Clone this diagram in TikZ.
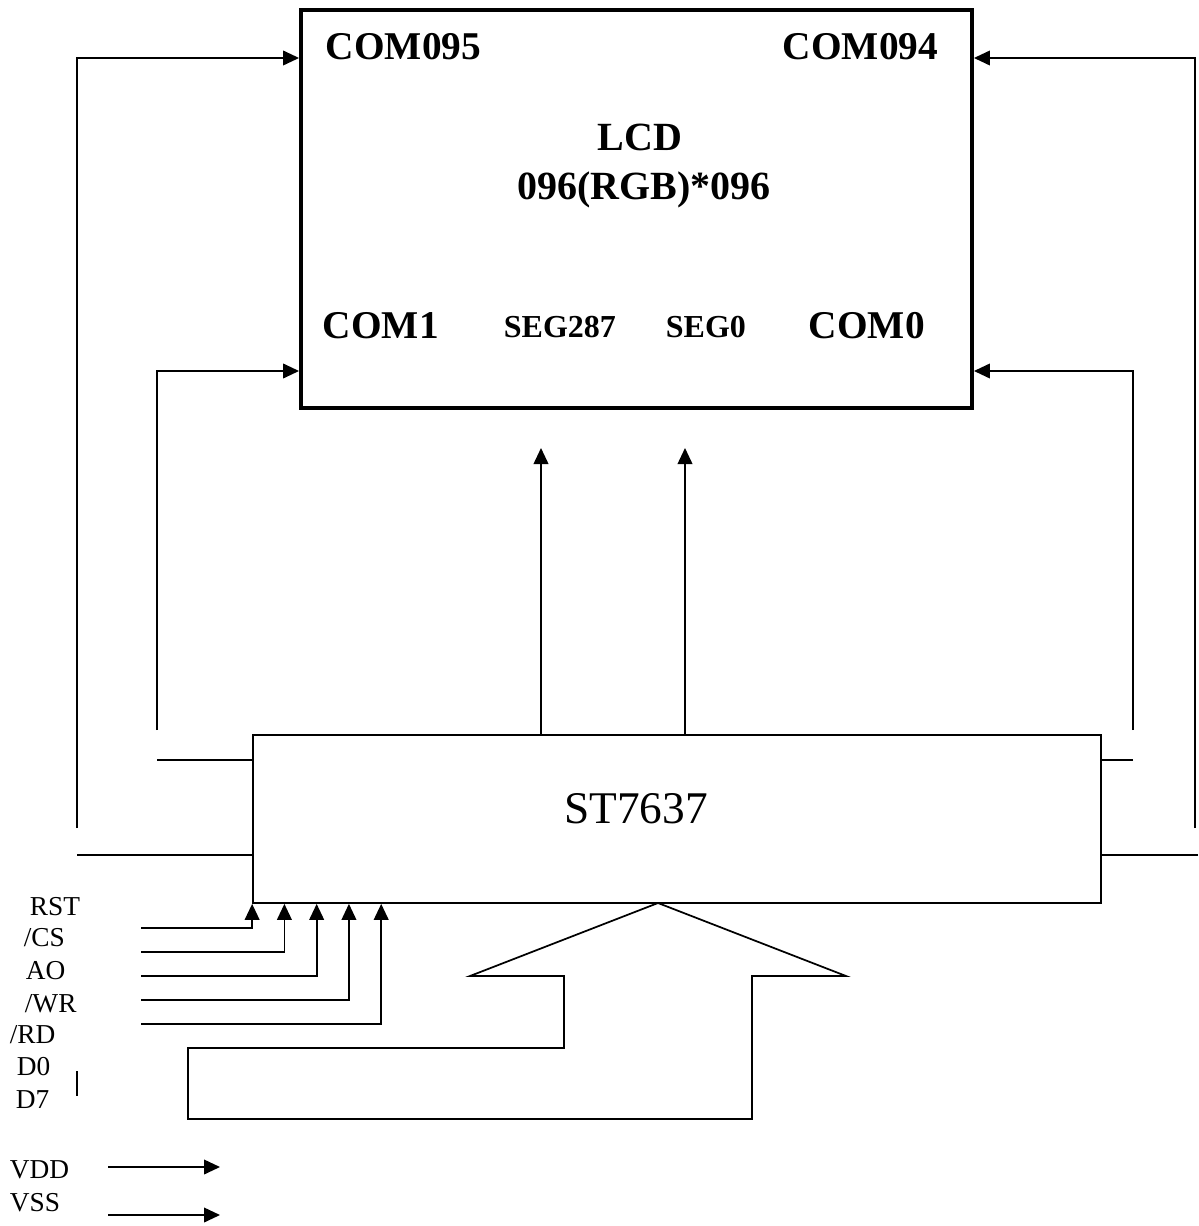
\documentclass[tikz,border=0pt]{standalone}
\usepackage{fontspec}
\setmainfont{Liberation Serif}
\usetikzlibrary{arrows.meta}
\begin{document}
\begin{tikzpicture}[x=0.75pt,y=-0.75pt,line width=1.3pt,
  arr/.style={-{Triangle[length=12pt,width=11pt]}},
  big/.style={font=\fontsize{29.5}{34}\selectfont\bfseries,anchor=base west,inner sep=0pt},
  seg/.style={font=\fontsize{24}{28}\selectfont\bfseries,anchor=base west,inner sep=0pt},
  pin/.style={font=\fontsize{20.5}{24}\selectfont,anchor=base west,inner sep=0pt}]
  \useasboundingbox (0,0) rectangle (1198,1226);
  \node[draw,line width=3.2pt,minimum width=503pt,minimum height=298.5pt,inner sep=0pt] (lcd) at (636.5,209) {};
  \node[big] (com95) at (325,60) {COM095};
  \node[big] (com94) at (782,60) {COM094};
  \node[big,anchor=base,font=\fontsize{30}{36}\selectfont\bfseries] (lcdt) at (640,151) {LCD};
  \node[big,anchor=base,font=\fontsize{30}{36}\selectfont\bfseries] (res) at (644,200) {096(RGB)*096};
  \node[big] (com1) at (322,339) {COM1};
  \node[seg] (seg287) at (503,338) {SEG287};
  \node[seg] (seg0) at (665,338) {SEG0};
  \node[big] (com0) at (808,339) {COM0};
  \node[draw,minimum width=636pt,minimum height=126pt,inner sep=0pt] (chip) at (677,819) {};
  \node[font=\fontsize{34}{40}\selectfont,anchor=base,inner sep=0pt] (name) at (636,823) {ST7637};
  \coordinate (l95) at (77,828);
  \coordinate (r94) at (1195,828);
  \coordinate (l1) at (157,730);
  \coordinate (r0) at (1133,730);
  \coordinate (h95) at (0,58);
  \coordinate (h1) at (0,371);
  \draw[arr] (l95) |- (lcd.west |- h95);
  \draw[arr] (r94) |- (lcd.east |- h95);
  \draw[arr] (l1) |- (lcd.west |- h1);
  \draw[arr] (r0) |- (lcd.east |- h1);
  \coordinate (s1) at (157,760);
  \coordinate (s2) at (77,855);
  \coordinate (s3) at (1133,760);
  \coordinate (s4) at (1198,855);
  \draw (s1) -- (s1 -| chip.west);
  \draw (s2) -- (s2 -| chip.west);
  \draw (s3) -- (s3 -| chip.east);
  \draw (s4) -- (s4 -| chip.east);
  \coordinate (g287) at (541,448);
  \coordinate (g0) at (685,448);
  \draw[arr] (g287 |- chip.north) -- (g287);
  \draw[arr] (g0 |- chip.north) -- (g0);
  \foreach \nm [count=\i] in {rst,cs,ao,wr,rd} {
    \coordinate (\nm) at (141,{904+24*\i});
    \draw[arr] (\nm) -| ([xshift={(\i-1)*24.2pt}]chip.south west);
  }
  \node[pin] (lrst) at (29,915) {RST};
  \node[pin] (lcs) at (23,946) {/CS};
  \node[pin] (lao) at (25,979) {AO};
  \node[pin] (lwr) at (24,1012) {/WR};
  \node[pin] (lrd) at (9,1043) {/RD};
  \node[pin] (ld0) at (16,1075) {D0};
  \node[pin] (ld7) at (15,1108) {D7};
  \draw (77,1071) -- (77,1096);
  \draw (658,903) -- (846,976) -- (752,976) -- (752,1119) -- (188,1119) -- (188,1048) -- (564,1048) -- (564,976) -- (470,976) -- cycle;
  \node[pin] (lvdd) at (9,1178) {VDD};
  \node[pin] (lvss) at (9,1211) {VSS};
  \coordinate (vdd) at (108,1167);
  \coordinate (vss) at (108,1215);
  \draw[arr] (vdd) -- ++(112,0);
  \draw[arr] (vss) -- ++(112,0);
\end{tikzpicture}
\end{document}
